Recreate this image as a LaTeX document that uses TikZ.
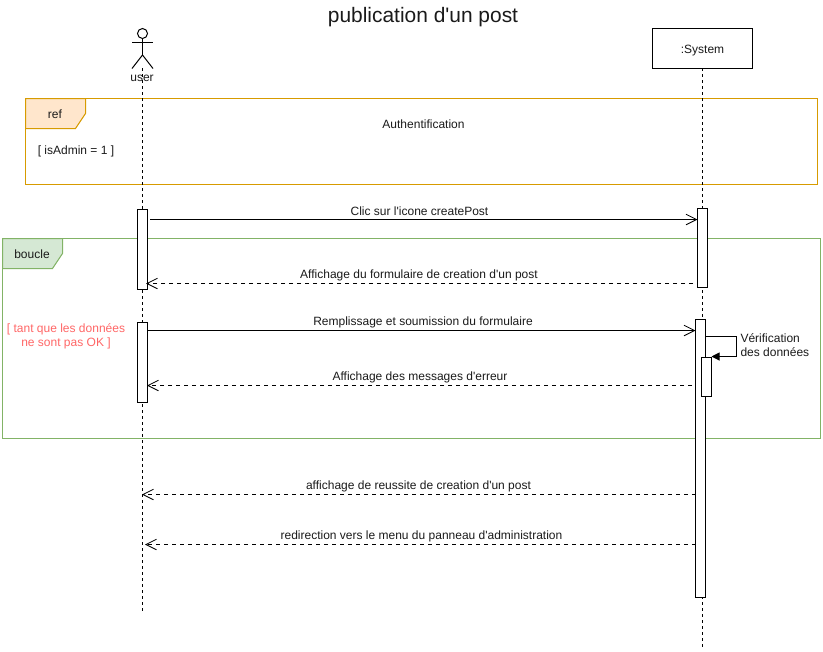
\documentclass[tikz,border=0pt]{standalone}
\usepackage{fontspec}
\setmainfont{Liberation Sans}[Ligatures=TeXOff]
\usetikzlibrary{arrows.meta}
\definecolor{refline}{HTML}{D79B00}
\definecolor{reffill}{HTML}{FFE6CC}
\definecolor{loopline}{HTML}{82B366}
\definecolor{loopfill}{HTML}{D5E8D4}
\definecolor{guardred}{HTML}{FF6666}
\definecolor{txt}{HTML}{1A1A1A}
\tikzset{
  x=0.75pt,y=-0.75pt,
  every node/.style={font=\fontsize{9}{10.5}\selectfont,text=txt,inner sep=0pt,outer sep=0pt},
  lifeline/.style={draw=black,line width=0.75pt,dash pattern=on 2.25pt off 2.25pt},
  activation/.style={draw=black,fill=white,line width=0.75pt,anchor=north west,minimum width=7.5pt,inner sep=0pt},
  msg/.style={draw=black,line width=0.75pt,-{Straight Barb[length=8pt,width=8pt,line width=0.6pt]}},
  ret/.style={msg,dash pattern=on 3pt off 3pt},
  frameref/.style={draw=refline,line width=0.75pt},
  frameloop/.style={draw=loopline,line width=0.75pt},
}
\begin{document}
\begin{tikzpicture}
\useasboundingbox (0,0) rectangle (823,651);
% title
\node[font=\fontsize{15.7}{18}\selectfont,anchor=base] (title) at (423,22) {publication d'un post};
% lifelines
\coordinate (uTop) at (142,68);
\coordinate (uEnd) at (142,612);
\coordinate (sTop) at (702,68);
\coordinate (sEnd) at (702,648);
% frames
\draw[frameref] (25.5,98.5) rectangle (817.5,184);
\fill[reffill] (25.5,98.5) -- (85.5,98.5) -- (85.5,113.5) -- (75.5,128.5) -- (25.5,128.5) -- cycle;
\draw[frameref] (25.5,98.5) -- (85.5,98.5) -- (85.5,113.5) -- (75.5,128.5) -- (25.5,128.5) -- cycle;
\node (refTag) at (55,114) {ref};
\node (auth) at (423.5,124) {Authentification};
\node (guard1) at (76,151) {[ isAdmin = 1 ]};
\draw[frameloop] (2.5,238.5) rectangle (820.5,438.5);
\fill[loopfill] (2.5,238.5) -- (62.5,238.5) -- (62.5,253.5) -- (52.5,268.5) -- (2.5,268.5) -- cycle;
\draw[frameloop] (2.5,238.5) -- (62.5,238.5) -- (62.5,253.5) -- (52.5,268.5) -- (2.5,268.5) -- cycle;
\node (loopTag) at (32,254) {boucle};
\node[text=guardred,align=center] (guard2) at (66,336) {[ tant que les données\\ne sont pas OK ]};
% actor
\node[draw=black,fill=white,circle,line width=0.75pt,minimum size=7.5pt] (head) at (142.5,33.5) {};
\coordinate (hip) at (142.5,55);
\draw[line width=0.75pt] (head.south) -- (hip);
\coordinate (armL) at (132,42); \coordinate (armR) at (153,42);
\coordinate (legL) at (132,68.5); \coordinate (legR) at (153,68.5);
\draw[line width=0.75pt] (armL) -- (armR);
\draw[line width=0.75pt] (legL) -- (hip) -- (legR);
\node (user) at (142,78) {user};
\draw[lifeline] (uTop) -- (uEnd);
% system
\draw[lifeline] (sTop) -- (sEnd);
\node[draw=black,fill=white,line width=0.75pt,minimum width=75pt,minimum height=30pt,anchor=north west] (system) at (652.5,28.5) {\smash{\raisebox{-4pt}{:System}}};
% activations
\node[activation,minimum height=60pt] (a1) at (137.5,209.5) {};
\node[activation,minimum height=60pt] (a2) at (137.5,322.5) {};
\node[activation,minimum height=59.25pt] (b1) at (697.5,208) {};
\node[activation,minimum height=208.5pt] (b2) at (695.5,319.5) {};
\node[activation,minimum height=29.25pt] (b3) at (701.5,357) {};
% message ends
\coordinate (m1s) at (150,219.5); \coordinate (m1e) at (697.5,219.5);
\coordinate (m2s) at (693,283.5); \coordinate (m2e) at (146,283.5);
\coordinate (m3s) at (147.5,330.5); \coordinate (m3e) at (695.5,330.5);
\coordinate (m4s) at (692,385.5); \coordinate (m4e) at (147,385.5);
\coordinate (m5s) at (695.5,494.5); \coordinate (m5e) at (142,494.5);
\coordinate (m6s) at (695.5,544.5); \coordinate (m6e) at (145,544.5);
\draw[msg] (m1s) -- (m1e);
\draw[ret] (m2s) -- (m2e);
\draw[msg] (m3s) -- (m3e);
\draw[ret] (m4s) -- (m4e);
\draw[ret] (m5s) -- (m5e);
\draw[ret] (m6s) -- (m6e);
% self message
\coordinate (selfS) at (705.5,336.5);
\coordinate (selfA) at (736.5,336.5);
\coordinate (selfB) at (736.5,356.5);
\coordinate (selfE) at (711.5,356.5);
\draw[line width=0.75pt,-{Triangle[length=6pt,width=6pt]}] (selfS) -- (selfA) -- (selfB) -- (selfE);
% labels
\node (l1) at (419.5,211) {Clic sur l'icone createPost};
\node (l2) at (419,275) {Affichage du formulaire de creation d'un post};
\node (l3) at (423,322) {Remplissage et soumission du formulaire};
\node (l4) at (420,377) {Affichage des messages d'erreur};
\node (l5) at (418.5,486) {affichage de reussite de creation d'un post};
\node (l6) at (421.5,536) {redirection vers le menu du panneau d'administration};
\node[align=left,anchor=west] (l7) at (740.5,345) {Vérification\\des données};
\end{tikzpicture}
\end{document}
